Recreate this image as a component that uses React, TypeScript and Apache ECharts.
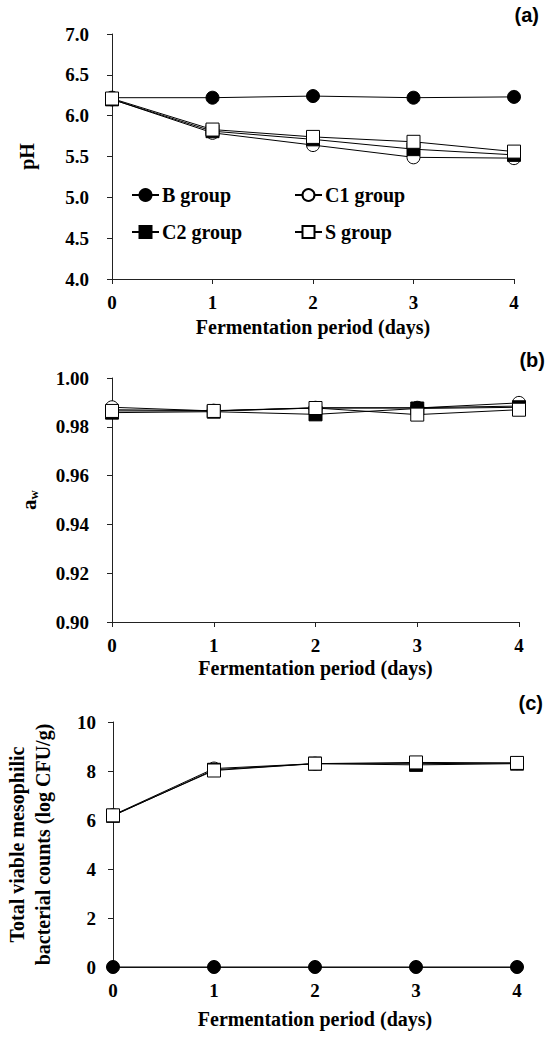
import React, { useEffect, useRef } from "react";
import * as echarts from "echarts";

const days = [0, 1, 2, 3, 4];
const groupNames = ["B group", "C1 group", "C2 group", "S group"];

// (a) pH
const phB = [6.22, 6.22, 6.24, 6.22, 6.23];
const phC1 = [6.2, 5.79, 5.64, 5.49, 5.48];
const phC2 = [6.2, 5.81, 5.71, 5.59, 5.52];
const phS = [6.21, 5.83, 5.74, 5.68, 5.56];

// (b) water activity
const awB = [0.987, 0.9866, 0.9878, 0.9878, 0.9885];
const awC1 = [0.988, 0.9865, 0.9877, 0.9877, 0.9898];
const awC2 = [0.9858, 0.9862, 0.9851, 0.9875, 0.988];
const awS = [0.9865, 0.9865, 0.9877, 0.985, 0.987];

// (c) total viable mesophilic bacterial counts
const tvcB = [0, 0, 0, 0, 0];
const tvcC1 = [6.2, 8.1, 8.3, 8.3, 8.32];
const tvcC2 = [6.17, 8.05, 8.3, 8.25, 8.3];
const tvcS = [6.19, 8.02, 8.3, 8.35, 8.33];

const panelLabels = ["(a)", "(b)", "(c)"];
const xTitle = "Fermentation period (days)";

const SERIF = '"Liberation Serif", "Times New Roman", serif';
const SANS = '"Liberation Sans", Arial, sans-serif';

const symbolDefs = [
  { symbol: "circle", fill: "#000" },
  { symbol: "circle", fill: "#fff" },
  { symbol: "rect", fill: "#000" },
  { symbol: "rect", fill: "#fff" },
];

function buildSeries(panel: number, arrays: number[][]) {
  return arrays.map((vals, i) => ({
    type: "line",
    name: groupNames[i],
    xAxisIndex: panel,
    yAxisIndex: panel,
    data: days.map((d, k) => [d, vals[k]]),
    symbol: symbolDefs[i].symbol,
    symbolSize: 13,
    clip: false,
    lineStyle: { color: "#000", width: 1 },
    itemStyle: { color: symbolDefs[i].fill, borderColor: "#000", borderWidth: 1 },
    emphasis: { disabled: true },
    z: 2 + i,
  }));
}

const axisLineStyle = { lineStyle: { color: "#222", width: 1 } };

function xAxis(grid: number, gap: number) {
  return {
    type: "value",
    gridIndex: grid,
    min: 0,
    max: 4,
    interval: 1,
    name: xTitle,
    nameLocation: "middle",
    nameGap: gap,
    nameTextStyle: { fontFamily: SERIF, fontWeight: "bold", fontSize: 20, color: "#000" },
    axisLine: { show: true, onZero: false, ...axisLineStyle },
    axisTick: { show: true, length: 5, ...axisLineStyle },
    axisLabel: { fontFamily: SERIF, fontWeight: "bold", fontSize: 19, color: "#000", margin: 14 },
    splitLine: { show: false },
  };
}

export default function App() {
  const ref = useRef<HTMLDivElement>(null);

  useEffect(() => {
    document.body.style.margin = "0";
    if (!ref.current) return;
    const chart = echarts.init(ref.current, undefined, { renderer: "svg" });

    const yBase = {
      type: "value",
      nameLocation: "middle",
      nameRotate: 90,
      axisLine: { show: true, ...axisLineStyle },
      axisTick: { show: true, length: 5, ...axisLineStyle },
      splitLine: { show: false },
    };

    const legendText = { fontFamily: SERIF, fontWeight: "bold", fontSize: 20, color: "#000", padding: [0, 0, 0, -2] };

    const option = {
      animation: false,
      backgroundColor: "#fff",
      grid: [
        { left: 112, top: 34, width: 402, height: 245, outerBoundsMode: "none", containLabel: false },
        { left: 112, top: 378, width: 407, height: 244, outerBoundsMode: "none", containLabel: false },
        { left: 113, top: 722, width: 404, height: 245, outerBoundsMode: "none", containLabel: false },
      ],
      xAxis: [xAxis(0, 38), xAxis(1, 36), xAxis(2, 42)],
      yAxis: [
        {
          ...yBase,
          gridIndex: 0,
          min: 4,
          max: 7,
          interval: 0.5,
          name: "pH",
          nameGap: 75,
          nameTextStyle: { fontFamily: SERIF, fontWeight: "bold", fontSize: 20, color: "#000" },
          axisLabel: {
            fontFamily: SERIF, fontWeight: "bold", fontSize: 19, color: "#000", margin: 23,
            formatter: (v: number) => v.toFixed(1),
          },
        },
        {
          ...yBase,
          gridIndex: 1,
          min: 0.9,
          max: 1.0,
          interval: 0.02,
          name: "{a|a}{w|w}",
          nameGap: 72,
          nameTextStyle: {
            color: "#000",
            rich: {
              a: { fontFamily: SERIF, fontWeight: "bold", fontSize: 21, color: "#000" },
              w: { fontFamily: SERIF, fontWeight: "bold", fontSize: 13, color: "#000", padding: [10, 0, 0, 0] },
            },
          },
          axisLabel: {
            fontFamily: SERIF, fontWeight: "bold", fontSize: 19, color: "#000", margin: 23,
            formatter: (v: number) => v.toFixed(2),
          },
        },
        {
          ...yBase,
          gridIndex: 2,
          min: 0,
          max: 10,
          interval: 2,
          name: "Total viable mesophilic\nbacterial counts (log CFU/g)",
          nameGap: 57,
          nameTextStyle: {
            fontFamily: SERIF, fontWeight: "bold", fontSize: 20, color: "#000", lineHeight: 26,
          },
          axisLabel: {
            fontFamily: SERIF, fontWeight: "bold", fontSize: 19, color: "#000", margin: 17,
            formatter: (v: number) => String(Math.round(v)),
          },
        },
      ],
      legend: [
        {
          data: [groupNames[0], groupNames[2]],
          orient: "vertical",
          left: 126,
          top: 180,
          itemWidth: 27,
          itemHeight: 15,
          itemGap: 17,
          selectedMode: false,
          textStyle: legendText,
        },
        {
          data: [groupNames[1], groupNames[3]],
          orient: "vertical",
          left: 289,
          top: 180,
          itemWidth: 27,
          itemHeight: 15,
          itemGap: 17,
          selectedMode: false,
          textStyle: legendText,
        },
      ],
      graphic: [
        { type: "text", right: 11, top: 5, style: { text: panelLabels[0], font: `bold 20px ${SANS}`, fill: "#000" } },
        { type: "text", right: 5, top: 350, style: { text: panelLabels[1], font: `bold 20px ${SANS}`, fill: "#000" } },
        { type: "text", right: 7, top: 693, style: { text: panelLabels[2], font: `bold 20px ${SANS}`, fill: "#000" } },
      ],
      series: [
        ...buildSeries(0, [phB, phC1, phC2, phS]),
        ...buildSeries(1, [awB, awC1, awC2, awS]),
        ...buildSeries(2, [tvcB, tvcC1, tvcC2, tvcS]),
      ],
    };

    chart.setOption(option as any);
    return () => chart.dispose();
  }, []);

  return <div ref={ref} style={{ width: 550, height: 1038 }} />;
}
